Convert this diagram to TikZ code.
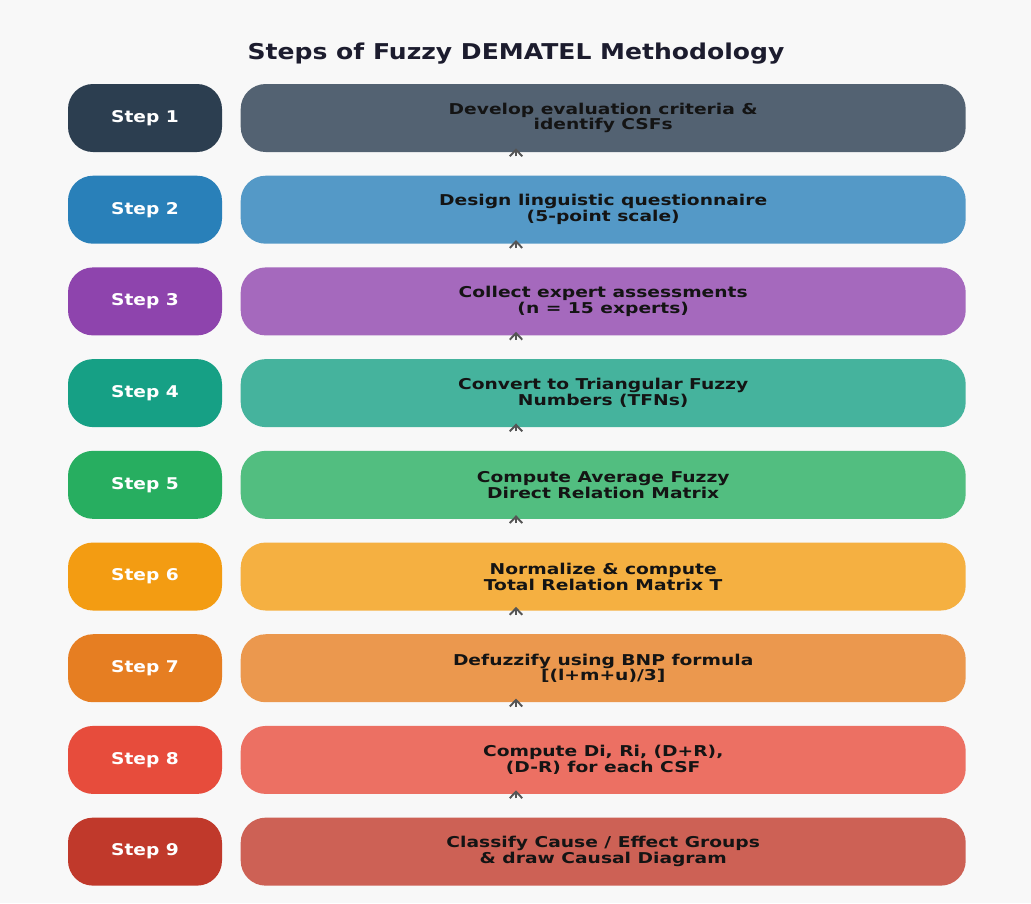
\documentclass[tikz,border=0pt]{standalone}
\usepackage{fontspec}
\setmainfont{DejaVu Sans}[FakeStretch=1.15]
\newfontfamily\widefont{DejaVu Sans}[FakeStretch=1.25]
\usetikzlibrary{positioning,arrows.meta}

% step colours: dark badge, lighter box
\definecolor{pagebg}{HTML}{F8F8F8}
\definecolor{titleink}{HTML}{1C1C2E}
\definecolor{boxink}{HTML}{141414}
\definecolor{flowgray}{HTML}{555555}
\definecolor{sOne}{HTML}{2C3E50}   \definecolor{bOne}{HTML}{536272}
\definecolor{sTwo}{HTML}{2980B9}   \definecolor{bTwo}{HTML}{5499C7}
\definecolor{sThree}{HTML}{8E44AD} \definecolor{bThree}{HTML}{A569BD}
\definecolor{sFour}{HTML}{16A085}  \definecolor{bFour}{HTML}{45B39D}
\definecolor{sFive}{HTML}{27AE60}  \definecolor{bFive}{HTML}{52BE80}
\definecolor{sSix}{HTML}{F39C12}   \definecolor{bSix}{HTML}{F5B041}
\definecolor{sSeven}{HTML}{E67E22} \definecolor{bSeven}{HTML}{EB984E}
\definecolor{sEight}{HTML}{E74C3C} \definecolor{bEight}{HTML}{EC7063}
\definecolor{sNine}{HTML}{C0392B}  \definecolor{bNine}{HTML}{CD6155}

\tikzset{
	badge/.style={rounded corners=0.5cm, minimum width=3.08cm, minimum height=1.36cm,
		inner sep=0pt, text=white, font=\bfseries\fontsize{9.2}{10}\selectfont},
	stepbox/.style={rounded corners=0.5cm, minimum width=14.5cm, minimum height=1.36cm,
		inner sep=0pt, align=center, text=boxink, font=\widefont\bfseries\fontsize{8.5}{9}\selectfont},
	flow/.style={draw=flowgray, line width=1.1pt, -{Straight Barb[length=1.3mm,width=2.5mm]},
		shorten <=0.38cm, shorten >=-0.08cm},
}

\begin{document}
\begin{tikzpicture}

		\fill[pagebg] (0,0) rectangle (20.62,-18.06);
		\useasboundingbox (0,0) rectangle (20.62,-18.06);

		\node [text=titleink, font=\bfseries\fontsize{12.4}{14}\selectfont] (title) at (10.32,-1.07)
			{Steps of Fuzzy DEMATEL Methodology};

		% badges down the left
		\node [badge, fill=sOne] (s1) at (2.9,-2.36) {Step 1};
		\node [badge, fill=sTwo, below = 0.46cm of s1] (s2) {Step 2};
		\node [badge, fill=sThree, below = 0.46cm of s2] (s3) {Step 3};
		\node [badge, fill=sFour, below = 0.46cm of s3] (s4) {Step 4};
		\node [badge, fill=sFive, below = 0.46cm of s4] (s5) {Step 5};
		\node [badge, fill=sSix, below = 0.46cm of s5] (s6) {Step 6};
		\node [badge, fill=sSeven, below = 0.46cm of s6] (s7) {Step 7};
		\node [badge, fill=sEight, below = 0.46cm of s7] (s8) {Step 8};
		\node [badge, fill=sNine, below = 0.46cm of s8] (s9) {Step 9};

		% description boxes
		\node [stepbox, fill=bOne, right = 0.36cm of s1] (b1) {Develop evaluation criteria \&\\identify CSFs};
		\node [stepbox, fill=bTwo, right = 0.36cm of s2] (b2) {Design linguistic questionnaire\\(5-point scale)};
		\node [stepbox, fill=bThree, right = 0.36cm of s3] (b3) {Collect expert assessments\\(n = 15 experts)};
		\node [stepbox, fill=bFour, right = 0.36cm of s4] (b4) {Convert to Triangular Fuzzy\\Numbers (TFNs)};
		\node [stepbox, fill=bFive, right = 0.36cm of s5] (b5) {Compute Average Fuzzy\\Direct Relation Matrix};
		\node [stepbox, fill=bSix, right = 0.36cm of s6] (b6) {Normalize \& compute\\Total Relation Matrix T};
		\node [stepbox, fill=bSeven, right = 0.36cm of s7] (b7) {Defuzzify using BNP formula\\{}[(l+m+u)/3]};
		\node [stepbox, fill=bEight, right = 0.36cm of s8] (b8) {Compute Di, Ri, (D+R),\\(D-R) for each CSF};
		\node [stepbox, fill=bNine, right = 0.36cm of s9] (b9) {Classify Cause / Effect Groups\\\& draw Causal Diagram};

		\draw [flow] (b2.north -| title) -- (b1.south -| title);
		\draw [flow] (b3.north -| title) -- (b2.south -| title);
		\draw [flow] (b4.north -| title) -- (b3.south -| title);
		\draw [flow] (b5.north -| title) -- (b4.south -| title);
		\draw [flow] (b6.north -| title) -- (b5.south -| title);
		\draw [flow] (b7.north -| title) -- (b6.south -| title);
		\draw [flow] (b8.north -| title) -- (b7.south -| title);
		\draw [flow] (b9.north -| title) -- (b8.south -| title);

\end{tikzpicture}
\end{document}
